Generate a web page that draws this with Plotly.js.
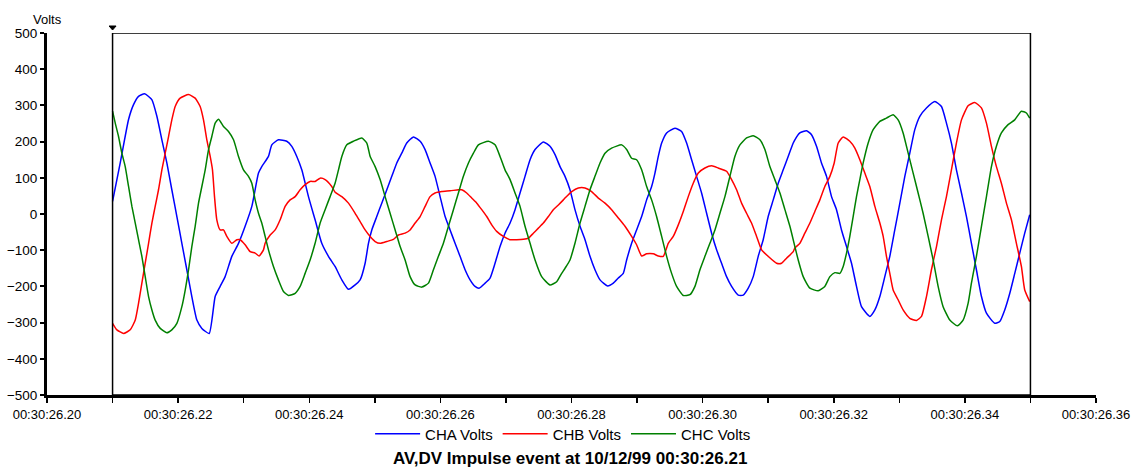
<!DOCTYPE html>
<html>
<head>
<meta charset="utf-8">
<script src="https://cdn.plot.ly/plotly-3.0.1.min.js"></script>
<style>
  html, body { margin: 0; padding: 0; background: #ffffff; }
  #chart { width: 1133px; height: 471px; }
</style>
</head>
<body>
<div id="chart"></div>
<script>
// Impulse event capture: three phase voltages, sampled from the trigger at 00:30:26.21
// Times are milliseconds after the trigger, voltages in volts.

const chaMs = [0.0,1.17,2.44,3.20,3.96,4.88,5.99,6.76,7.52,8.28,9.04,9.81,10.57,11.33,12.09,12.86,13.62,14.74,15.65,16.41,17.17,18.19,19.21,20.22,21.24,22.26,22.76,23.78,24.29,25.30,26.57,27.34,28.10,28.86,29.88,30.89,31.91,32.93,33.94,
  34.97,35.98,37.0,37.76,38.52,39.03,39.54,40.3,41.06,41.83,42.59,43.35,44.11,44.87,45.89,46.91,47.67,48.43,49.19,49.96,50.72,51.48,52.24,53.0,53.77,54.53,55.29,55.9,56.82,57.58,58.34,59.1,59.86,60.63,61.39,62.15,62.91,63.68,64.44,65.71,66.72,67.49,68.25,
  69.01,69.77,70.53,71.30,72.06,72.82,73.58,74.35,75.51,76.38,77.14,77.90,78.41,79.17,79.93,80.70,81.46,82.22,82.73,83.24,83.75,84.51,85.78,86.79,87.56,88.32,89.08,89.84,90.61,91.37,92.13,92.89,93.65,94.42,95.43,96.19,96.96,97.72,98.48,99.24,100.0,100.77,101.53,102.29,103.05,103.82,
  104.07,104.83,105.85,106.61,107.37,108.13,108.90,109.66,110.42,111.18,111.95,112.71,113.47,114.23,115.50,116.27,117.03,117.79,118.55,119.31,120.08,120.84,121.60,122.36,123.13,124.14,125.41,126.43,127.19,127.95,128.71,129.48,130.24,131.0,131.76,132.53,133.29,134.56,135.32,136.08,136.85,137.61,138.37,139.13,139.89];
const chaVolts = [35,141,261,302,325,332,316,270,205,141,67,-7,-81,-154,-228,-293,-316,-330,-228,-200,-173,-117,-81,-34,21,113,131,159,191,205,201,187,159,122,48,-16,-81,-117,-145,
  -182,-208,-196,-182,-136,-81,-44,-7,30,67,104,141,168,196,213,201,178,141,104,48,-7,-44,-81,-117,-154,-182,-200,-205,-191,-177,-136,-90,-53,-25,12,58,104,150,178,199,187,164,131,
  104,67,12,-34,-71,-117,-154,-182,-199,-191,-177,-164,-127,-81,-44,-7,39,76,113,159,196,224,237,228,196,150,104,58,2,-53,-99,-136,-173,-200,-224,-224,-205,-173,-117,-71,-7,39,85,122,159,196,
  205,224,230,219,187,141,104,48,12,-44,-90,-136,-200,-256,-283,-265,-228,-173,-117,-44,30,104,168,233,270,293,311,297,251,196,122,58,-7,-81,-154,-228,-274,-302,-297,-265,-219,-164,-108,-53,-2];

const chbMs = [0.0,0.66,1.68,2.69,3.46,3.96,4.47,4.98,5.49,6.0,6.50,7.01,7.52,8.03,8.54,9.04,9.55,10.31,11.59,12.60,13.36,13.87,14.38,14.89,15.24,15.55,15.90,16.41,16.92,17.43,18.19,18.95,19.46,20.22,20.99,21.75,22.36,23.02,23.27,24.04,24.80,25.56,26.32,27.08,27.85,28.61,29.37,30.13,30.89,31.66,32.42,33.43,
  33.95,34.97,35.98,37.0,37.76,38.52,39.29,40.05,40.81,41.83,42.84,43.60,44.62,45.38,46.15,46.91,47.67,48.43,49.19,50.21,51.48,52.75,53.26,54.02,54.78,55.55,56.31,57.07,57.83,58.59,59.61,60.63,61.64,62.66,63.42,64.18,64.95,65.71,66.47,67.23,68.0,68.76,
  69.01,70.03,71.04,72.06,73.07,74.09,75.11,76.12,77.14,78.16,79.17,79.93,80.70,81.46,82.47,83.24,84.0,84.76,85.52,86.29,87.05,87.81,88.57,89.34,90.35,91.37,92.38,93.65,94.42,95.18,95.94,96.70,97.46,98.23,98.99,100.01,101.28,102.04,102.80,103.82,
  104.07,104.83,105.59,106.36,107.12,107.88,108.64,109.41,110.07,110.68,111.44,112.45,113.22,113.98,114.74,115.50,116.27,117.03,117.54,118.04,118.55,119.06,119.82,120.58,121.60,122.62,123.38,124.14,124.90,125.67,126.43,127.19,127.95,128.71,129.48,130.49,131.51,132.52,133.29,134.05,134.81,135.57,136.34,137.10,137.86,138.62,139.13,139.89];
const chbVolts = [-302,-320,-330,-320,-293,-247,-191,-136,-81,-25,21,67,122,168,214,260,297,320,330,320,297,260,205,159,122,48,-16,-44,-44,-62,-81,-71,-71,-85,-104,-108,-116,-99,-81,-58,-44,-16,21,39,48,67,81,90,90,99,95,76,
  60,48,30,2,-21,-44,-62,-76,-81,-76,-70,-58,-53,-44,-25,-7,21,48,58,62,64,67,67,58,44,30,12,-7,-30,-48,-62,-71,-71,-70,-67,-53,-39,-25,-7,12,25,39,
  44,62,72,72,62,44,30,12,-11,-34,-62,-85,-116,-110,-110,-116,-117,-81,-62,-30,7,48,85,113,127,133,127,118,95,67,30,2,-25,-62,-99,-117,-136,-136,-122,-104,
  -94,-81,-53,-25,7,39,76,104,141,196,213,201,182,150,113,76,21,-25,-62,-117,-164,-210,-237,-265,-288,-294,-283,-228,-154,-90,-16,48,122,196,260,299,308,293,251,187,131,85,30,-16,-81,-145,-210,-242];

const chcMs = [0.0,0.41,0.91,1.42,1.93,2.44,2.95,3.46,3.96,4.47,4.98,5.49,6.0,6.50,7.27,8.28,9.04,9.81,10.57,11.08,11.59,12.09,12.60,13.11,13.62,14.13,14.63,15.14,15.65,16.16,16.92,17.68,18.45,19.21,19.97,20.73,21.24,21.75,22.26,22.76,23.27,23.78,24.54,25.30,26.07,26.83,27.85,28.61,29.37,30.13,30.89,31.66,32.42,33.18,33.94,
  34.46,34.97,35.73,36.74,38.02,38.78,39.29,40.05,40.81,41.57,42.33,43.10,43.86,44.62,45.38,46.15,47.16,48.18,48.94,49.70,50.46,51.23,51.99,52.75,53.51,54.28,55.04,55.80,57.32,58.34,59.10,59.86,60.63,61.39,62.15,62.91,63.68,64.44,65.45,66.72,67.74,68.50,
  69.01,69.77,70.53,71.30,72.06,72.82,73.58,74.35,75.11,76.12,77.65,78.41,79.17,79.93,80.70,81.46,82.22,82.98,83.75,84.51,85.27,86.03,87.05,88.06,88.83,89.59,90.35,91.11,91.88,92.64,93.40,94.16,94.92,95.69,96.70,97.72,98.74,99.50,100.26,101.02,101.79,102.55,103.31,
  104.07,104.58,105.34,106.36,107.63,108.64,109.41,110.17,110.93,111.44,111.95,112.45,112.96,113.47,113.98,114.49,115.25,116.01,117.03,118.04,119.06,119.82,120.58,121.35,122.11,122.87,123.63,124.40,125.16,125.92,126.68,127.70,128.87,129.73,130.49,131.0,131.76,132.53,133.29,134.05,134.81,135.57,136.59,137.60,138.62,139.38,139.89];
const chcVolts = [284,251,214,168,131,76,21,-25,-71,-117,-173,-228,-265,-293,-316,-328,-320,-302,-256,-210,-154,-90,-34,30,76,122,177,214,251,262,242,228,205,159,122,104,85,39,2,-25,-62,-99,-145,-182,-214,-225,-219,-200,-164,-127,-81,-25,12,48,85,
  122,159,191,201,210,196,159,131,95,48,2,-44,-90,-127,-173,-196,-202,-191,-154,-117,-81,-34,12,58,104,141,168,191,201,191,159,122,95,58,21,-34,-81,-127,-173,-196,-187,-164,
  -150,-127,-81,-25,21,67,104,141,168,182,191,178,154,150,122,76,39,-7,-62,-117,-164,-200,-225,-223,-200,-154,-117,-81,-44,2,48,104,159,191,210,216,205,178,131,95,58,12,-34,
  -90,-127,-173,-205,-212,-200,-173,-162,-164,-145,-108,-62,-7,48,95,141,196,233,256,265,274,260,224,168,113,58,2,-62,-127,-200,-256,-293,-309,-293,-247,-191,-117,-34,48,131,187,224,247,260,284,279,265];

// Axis: milliseconds after 00:30:26.20; the trigger sits 10 ms in.
const axisStartMs = 0;
const axisEndMs = 160;
const triggerOffsetMs = 10;
const recordEndMs = 140;
const xTickVals = [0,10,20,30,40,50,60,70,80,90,100,110,120,130,140,150,160];
const xTickText = ['00:30:26.20','','00:30:26.22','','00:30:26.24','','00:30:26.26','','00:30:26.28','','00:30:26.30','','00:30:26.32','','00:30:26.34','','00:30:26.36'];
const yTickVals = [-500,-400,-300,-200,-100,0,100,200,300,400,500];

const seriesNames = ['CHA Volts', 'CHB Volts', 'CHC Volts'];
const seriesColors = ['#0000ff', '#ff0000', '#008000'];
const seriesMs = [chaMs, chbMs, chcMs];
const seriesVolts = [chaVolts, chbVolts, chcVolts];

const FONT = 'Arial, "Liberation Sans", sans-serif';

const traces = seriesNames.map((name, i) => ({
  type: 'scatter',
  mode: 'lines',
  name: name,
  x: seriesMs[i].map(t => t + triggerOffsetMs),
  y: seriesVolts[i],
  line: { color: seriesColors[i], width: 1.5, shape: 'spline', smoothing: 0.5 },
  hoverinfo: 'x+y+name'
}));

// trigger position as a fraction of the plot width (for the marker above the frame)
const triggerPaperX = (triggerOffsetMs - axisStartMs) / (axisEndMs - axisStartMs);

const layout = {
  width: 1133,
  height: 471,
  margin: { l: 47, r: 37, t: 33, b: 76, pad: 0 },
  paper_bgcolor: '#ffffff',
  plot_bgcolor: '#ffffff',
  font: { family: FONT, size: 13, color: '#000000' },
  showlegend: true,
  legend: {
    orientation: 'h',
    x: 0.492, xanchor: 'center',
    y: -0.108, yanchor: 'middle',
    font: { family: FONT, size: 15, color: '#000000' },
    itemwidth: 45,
    bgcolor: 'rgba(0,0,0,0)'
  },
  xaxis: {
    range: [axisStartMs, axisEndMs],
    tickmode: 'array',
    tickvals: xTickVals,
    ticktext: xTickText,
    ticks: 'outside',
    ticklen: 5,
    tickwidth: 1.5,
    tickcolor: '#000000',
    showline: true,
    linewidth: 3,
    linecolor: '#000000',
    showgrid: false,
    zeroline: false,
    tickfont: { family: FONT, size: 13, color: '#000000' },
    fixedrange: true
  },
  yaxis: {
    range: [-500, 500],
    tickmode: 'array',
    tickvals: yTickVals,
    ticks: 'outside',
    ticklen: 4,
    tickwidth: 2,
    tickcolor: '#000000',
    showline: true,
    linewidth: 3,
    linecolor: '#000000',
    showgrid: false,
    zeroline: false,
    tickfont: { family: FONT, size: 13.5, color: '#000000' },
    fixedrange: true
  },
  shapes: [
    // frame around the recorded window
    {
      type: 'rect', xref: 'x', yref: 'y',
      x0: triggerOffsetMs, x1: triggerOffsetMs + recordEndMs, y0: -500, y1: 500,
      line: { color: '#000000', width: 1.5 },
      fillcolor: 'rgba(0,0,0,0)',
      layer: 'above'
    },
    // trigger marker just above the frame
    {
      type: 'path', xref: 'paper', yref: 'paper',
      xsizemode: 'pixel', ysizemode: 'pixel',
      xanchor: triggerPaperX, yanchor: 1,
      path: 'M -3.5 7 L 3.5 7 L 0 3 Z',
      line: { color: '#000000', width: 1 },
      fillcolor: '#000000',
      layer: 'above'
    }
  ],
  annotations: [
    {
      text: 'Volts', xref: 'paper', yref: 'paper',
      x: 0.0, y: 1.036, xanchor: 'center', yanchor: 'middle',
      showarrow: false,
      font: { family: FONT, size: 13, color: '#000000' }
    },
    {
      text: 'AV,DV Impulse event at 10/12/99 00:30:26.21',
      xref: 'paper', yref: 'paper',
      x: 0.499, y: -0.207, xanchor: 'center', yanchor: 'bottom',
      showarrow: false,
      font: { family: FONT, size: 17, color: '#000000', weight: 'bold' }
    }
  ]
};

Plotly.newPlot('chart', traces, layout, { displayModeBar: false, staticPlot: true });
</script>
</body>
</html>
